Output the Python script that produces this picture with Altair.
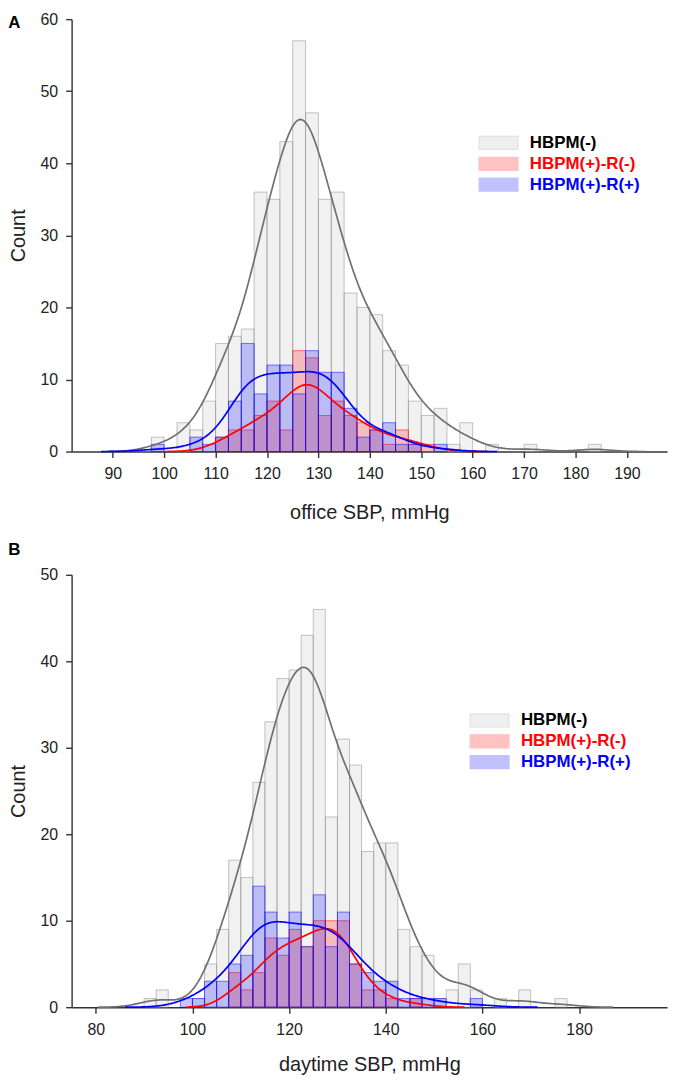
import altair as alt
import numpy as np
import pandas as pd

GROUPS = ["HBPM(-)", "HBPM(+)-R(-)", "HBPM(+)-R(+)"]
BIN_WIDTH = 2.5

# ---- Panel A: office SBP (bin start, counts per group) ----
a_bin_start = [97.5, 100, 102.5, 105, 107.5, 110, 112.5, 115, 117.5, 120, 122.5, 125,
               127.5, 130, 132.5, 135, 137.5, 140, 142.5, 145, 147.5, 150, 152.5, 155,
               157.5, 160, 162.5, 165, 167.5, 170, 172.5, 175, 177.5, 180, 182.5]
a_neg = [2, 0, 4, 3, 7, 15, 16, 17, 36, 35, 43, 57,
         47, 35, 36, 22, 20, 19, 14, 12, 7, 5, 6, 1,
         4, 0, 1, 0, 0, 1, 0, 0, 0, 0, 1]
a_rneg = [0, 0, 0, 0, 0, 2, 3, 3, 5, 7, 3, 14,
          13, 5, 7, 5, 4, 3, 1, 3, 1, 1, 0, 0,
          0, 0, 0, 0, 0, 0, 0, 0, 0, 0, 0]
a_rpos = [1, 0, 0, 2, 1, 2, 7, 15, 8, 12, 12, 8,
          14, 11, 11, 6, 2, 3, 4, 1, 1, 0, 1, 0,
          0, 0, 0, 0, 0, 0, 0, 0, 0, 0, 0]

# ---- Panel B: daytime SBP ----
b_bin_start = [90, 92.5, 95, 97.5, 100, 102.5, 105, 107.5, 110, 112.5, 115, 117.5,
               120, 122.5, 125, 127.5, 130, 132.5, 135, 137.5, 140, 142.5, 145, 147.5,
               150, 152.5, 155, 157.5, 160, 162.5, 165, 167.5, 170, 172.5, 175]
b_neg = [1, 2, 0, 0, 1, 5, 9, 17, 15, 26, 33, 38,
         39, 43, 46, 22, 31, 28, 18, 19, 19, 9, 7, 6,
         1, 2, 5, 2, 0, 1, 0, 2, 0, 0, 1]
b_rneg = [0, 0, 0, 0, 0, 0, 0, 4, 2, 4, 8, 6,
          9, 7, 10, 10, 10, 5, 2, 2, 1, 0, 1, 0,
          0, 0, 0, 0, 0, 0, 0, 0, 0, 0, 0]
b_rpos = [0, 0, 0, 1, 1, 3, 3, 5, 6, 14, 11, 8,
          11, 7, 13, 7, 11, 5, 4, 3, 3, 1, 1, 1,
          1, 0, 0, 1, 0, 0, 0, 0, 0, 0, 0]

a_xticks = [90, 100, 110, 120, 130, 140, 150, 160, 170, 180, 190]
b_xticks = [80, 100, 120, 140, 160, 180]
a_yticks = [0, 10, 20, 30, 40, 50, 60]
b_yticks = [0, 10, 20, 30, 40, 50]

FILL_COLORS = ["#c0c0c0", "#ff0000", "#0000ff"]
FILL_OPAC = [0.22, 0.22, 0.22]
STROKE_COLORS = ["#8a8a8a", "#ff0000", "#0000ff"]
LINE_COLORS = ["#707070", "#ff0000", "#0000ff"]
FONT = "Liberation Sans"


def hist_table(starts, series):
    rows = []
    for g, counts in zip(GROUPS, series):
        for s, c in zip(starts, counts):
            if c > 0:
                rows.append({"group": g, "x0": s, "x1": s + BIN_WIDTH, "count": c})
    return pd.DataFrame(rows)


def raw_table(starts, series):
    rows = []
    for g, counts in zip(GROUPS, series):
        for s, c in zip(starts, counts):
            rows += [{"group": g, "v": s + BIN_WIDTH / 2}] * c
    return pd.DataFrame(rows)


def panel(starts, series, xdomain, xticks, ymax, yticks, xtitle, xtitle_pad, label,
          title_offset, lx, ly):
    hist = hist_table(starts, series)
    raw = raw_table(starts, series)
    xs = alt.Scale(domain=xdomain, nice=False, zero=False)
    ys = alt.Scale(domain=[0, ymax], nice=False)
    legend = alt.Legend(
        title=None, orient="none", legendX=lx, legendY=ly, padding=0,
        symbolType="M-1,-1H5V1H-1Z", symbolSize=169, symbolStrokeWidth=1.3,
        symbolOpacity=0.24,
        labelFont=FONT, labelFontSize=17, labelFontWeight="bold",
        labelOffset=36, rowPadding=2, labelLimit=400,
        labelColor=alt.ExprRef(
            expr="datum.label == 'HBPM(-)' ? '#000000' : "
                 "(datum.label == 'HBPM(+)-R(-)' ? '#ff0000' : '#0000ff')"),
    )
    bars = alt.Chart(hist).mark_rect(strokeWidth=1, strokeOpacity=0.5).encode(
        x=alt.X("x0:Q", scale=xs,
                axis=alt.Axis(values=xticks, title=xtitle, titlePadding=xtitle_pad)),
        x2="x1:Q",
        y=alt.Y("count:Q", scale=ys,
                axis=alt.Axis(values=yticks, title="Count", titlePadding=12)),
        y2=alt.datum(0),
        fill=alt.Fill("group:N", scale=alt.Scale(domain=GROUPS, range=FILL_COLORS),
                      legend=legend),
        fillOpacity=alt.FillOpacity("group:N",
                                    scale=alt.Scale(domain=GROUPS, range=FILL_OPAC),
                                    legend=legend),
        stroke=alt.Stroke("group:N", scale=alt.Scale(domain=GROUPS, range=STROKE_COLORS),
                          legend=legend),
    )
    layers = [bars]
    for g, col in zip(GROUPS, LINE_COLORS):
        vals = raw[raw.group == g]["v"].to_numpy()
        bw = float(vals.std(ddof=1) * len(vals) ** (-0.2))
        lo, hi = float(vals.min() - 3 * bw), float(vals.max() + 3 * bw)
        line = (
            alt.Chart(raw)
            .transform_filter(alt.datum.group == g)
            .transform_density("v", as_=["v", "density"], bandwidth=bw,
                               extent=[lo, hi], counts=True, steps=300)
            .transform_calculate(cnt=f"datum.density * {BIN_WIDTH}")
            .mark_line(color=col, strokeWidth=1.7)
            .encode(x=alt.X("v:Q", scale=xs), y=alt.Y("cnt:Q", scale=ys))
        )
        layers.append(line)
    return alt.layer(*layers).properties(
        width=599, height=435,
        title=alt.TitleParams(label, anchor="start", frame="bounds", offset=title_offset,
                              fontSize=17, fontWeight="bold", font=FONT, color="#000"),
    )


top = panel(a_bin_start, [a_neg, a_rneg, a_rpos], [82, 197.8], a_xticks, 60, a_yticks,
            "office SBP, mmHg", 21, "A", -21, 408, 116)
bottom = panel(b_bin_start, [b_neg, b_rneg, b_rpos], [75, 198.2], b_xticks, 50, b_yticks,
               "daytime SBP, mmHg", 18, "B", 8, 399, 138)

chart = (
    alt.vconcat(top, bottom, spacing=19)
    .resolve_scale(x="independent", y="independent", fill="independent",
                   stroke="independent", fillOpacity="independent")
    .properties(padding={"left": 0, "top": 0, "right": 5, "bottom": 0})
    .configure_view(stroke=None)
    .configure_axis(
        grid=False, domainColor="#333333", domainWidth=1.4, tickColor="#333333",
        tickWidth=1.4, tickSize=6, labelPadding=8, labelFont=FONT, labelFontSize=16,
        labelColor="#222222", titleFont=FONT, titleFontSize=20, titleFontWeight="normal",
        titleColor="#222222",
    )
)

chart.save("out.html", embed_options={"renderer": "svg", "actions": False})
